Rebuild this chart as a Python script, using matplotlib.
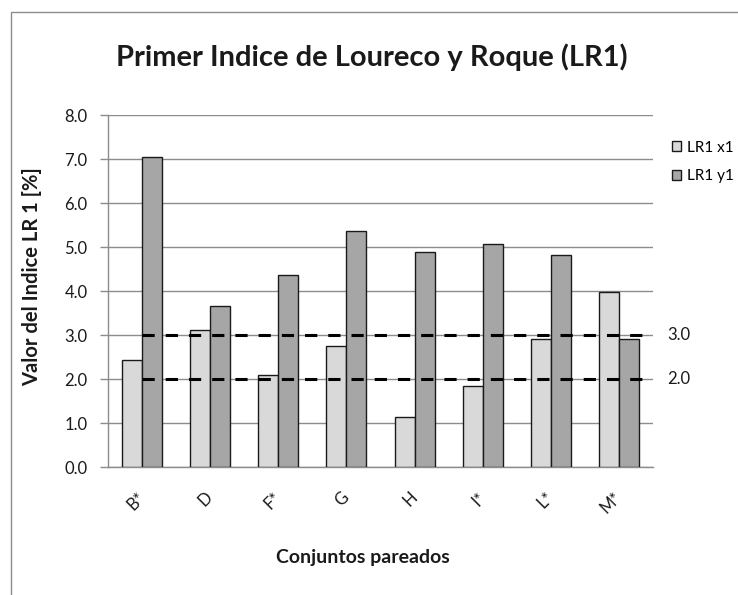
import matplotlib
matplotlib.use("Agg")
import matplotlib.pyplot as plt
import numpy as np
from matplotlib.patches import Rectangle, Patch

plt.rcParams['font.family'] = ['Lato', 'DejaVu Sans']

categories = ["B*", "D", "F*", "G", "H", "I*", "L*", "M*"]
lr1_x1 = [2.44, 3.11, 2.09, 2.76, 1.14, 1.84, 2.92, 3.98]
lr1_y1 = [7.05, 3.66, 4.36, 5.37, 4.88, 5.06, 4.82, 2.90]
series_names = ["LR1 x1", "LR1 y1"]
limits = [3.0, 2.0]
yticks = [0.0, 1.0, 2.0, 3.0, 4.0, 5.0, 6.0, 7.0, 8.0]

W, H = 738, 595
fig = plt.figure(figsize=(W / 100, H / 100), dpi=100)

# outer chart frame
fig.patches.append(Rectangle((11 / W, -0.1), 1.2, (H - 12) / H + 0.1,
                             transform=fig.transFigure, fill=False,
                             edgecolor="#8c8c8c", lw=1.0, zorder=0))

ax = fig.add_axes([108 / W, 1 - 467 / H, (653 - 108) / W, (467 - 115) / H])

x = np.arange(len(categories))
bw = 20 / 68
ax.bar(x - bw / 2, lr1_x1, width=bw, color="#d9d9d9", edgecolor="#1a1a1a",
       linewidth=1.0, zorder=3)
ax.bar(x + bw / 2, lr1_y1, width=bw, color="#a6a6a6", edgecolor="#1a1a1a",
       linewidth=1.0, zorder=3)

for v in limits:
    ax.plot([0, len(categories) - 0.5], [v, v], color="black", lw=2.2,
            dashes=(4, 3.6), zorder=4, solid_capstyle="butt",
            dash_capstyle="butt")
    ax.text(1.026, v, f"{v:.1f}", transform=ax.get_yaxis_transform(),
            ha="left", va="center", fontsize=12, color="#1a1a1a")

ax.set_xlim(-0.5, len(categories) - 0.5)
ax.set_ylim(0, 8)
ax.set_yticks(yticks)
ax.set_yticklabels([f"{t:.1f}" for t in yticks], fontsize=12, color="#1a1a1a")
ax.yaxis.grid(True, color="#8c8c8c", lw=1.0, zorder=0)
ax.set_axisbelow(True)
ax.tick_params(axis="y", length=5.8, width=1.0, color="#8c8c8c", pad=9)

ax.set_xticks(x)
ax.set_xticklabels(categories, rotation=45, ha="right", va="center",
                   rotation_mode="anchor", fontsize=12, color="#1a1a1a")
ax.tick_params(axis="x", length=0, pad=20)

for s in ["top", "right"]:
    ax.spines[s].set_visible(False)
for s in ["left", "bottom"]:
    ax.spines[s].set_color("#8c8c8c")
    ax.spines[s].set_linewidth(1.0)

fig.text(372 / W, 1 - 57 / H, "Primer Indice de Loureco y Roque (LR1)",
         ha="center", va="center", fontsize=21, fontweight="bold",
         color="#1a1a1a")
fig.text(32 / W, 1 - 277 / H, "Valor del Indice LR 1 [%]", rotation=90,
         ha="center", va="center", fontsize=14.5, fontweight="bold",
         color="#1a1a1a")
fig.text(363 / W, 1 - 557 / H, "Conjuntos pareados", ha="center",
         va="center", fontsize=14, fontweight="bold", color="#1a1a1a")

handles = [Patch(facecolor="#d9d9d9", edgecolor="#1a1a1a", lw=1.0),
           Patch(facecolor="#a6a6a6", edgecolor="#1a1a1a", lw=1.0)]
fig.legend(handles, series_names, loc="upper left",
           bbox_to_anchor=(664 / W, 1 - 133 / H), frameon=False,
           fontsize=11, handlelength=0.6, handleheight=0.6,
           handletextpad=0.4, labelspacing=0.95, borderpad=0)

fig.savefig("out.png", dpi=100)
